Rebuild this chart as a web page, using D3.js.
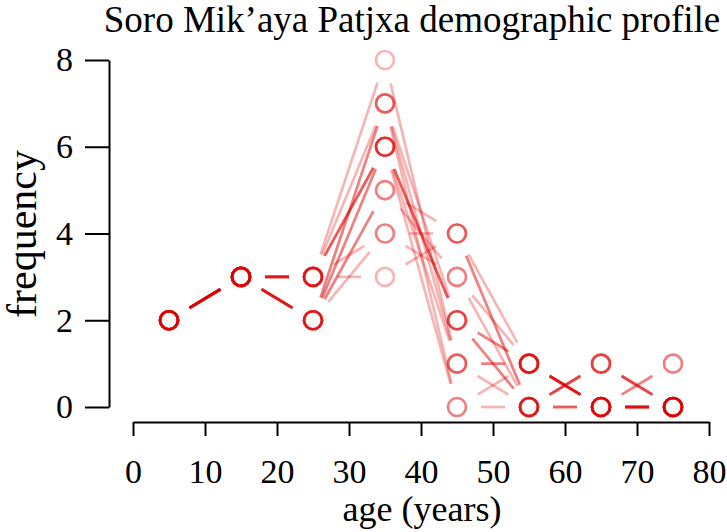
<!DOCTYPE html>
<html>
<head>
<meta charset="utf-8">
<script src="https://cdn.jsdelivr.net/npm/d3@7"></script>
<style>
  html, body { margin: 0; padding: 0; background: #fff; }
  svg { display: block; }
  text { font-family: "Liberation Serif", "Times New Roman", serif; }
</style>
</head>
<body>
<svg id="chart" width="727" height="532"></svg>
<script>
// Age bin midpoints (years)
const ages = [5, 15, 25, 35, 45, 55, 65, 75];
// Candidate demographic profiles (frequency per 10-year bin)
const profile01 = [2, 3, 3, 6, 2, 0, 1, 0];
const profile02 = [2, 3, 2, 6, 2, 1, 0, 0];
const profile03 = [2, 3, 3, 7, 1, 0, 0, 0];
const profile04 = [2, 3, 2, 7, 2, 0, 1, 0];
const profile05 = [2, 3, 3, 8, 1, 1, 0, 1];
const profile06 = [2, 3, 2, 5, 3, 0, 1, 0];
const profile07 = [2, 3, 3, 6, 2, 1, 0, 0];
const profile08 = [2, 3, 2, 5, 4, 0, 0, 0];
const profile09 = [2, 3, 2, 4, 3, 1, 0, 0];
const profile10 = [2, 3, 3, 3, 4, 1, 0, 0];
const profile11 = [2, 3, 3, 4, 4, 0, 1, 0];
const profile12 = [2, 3, 2, 6, 1, 1, 0, 0];
const profile13 = [2, 3, 3, 6, 0, 0, 0, 1];
const profile14 = [2, 3, 2, 7, 0, 1, 0, 0];
const profiles = [profile01, profile02, profile03, profile04, profile05, profile06, profile07,
                  profile08, profile09, profile10, profile11, profile12, profile13, profile14];
const xTicks = [0, 10, 20, 30, 40, 50, 60, 70, 80];
const yTicks = [0, 2, 4, 6, 8];
const titleText = "Soro Mik\u2019aya Patjxa demographic profile";
const xLabel = "age (years)";
const yLabel = "frequency";

const svg = d3.select("#chart");
const x = d3.scaleLinear().domain([0, 80]).range([133, 709]);
const y = d3.scaleLinear().domain([0, 8]).range([407, 60]);

const red = "rgb(225,0,0)";
const alpha = 0.29;
const gap = 24;
const r = 9;

// Series (type = "b": points with gapped line segments)
profiles.forEach(p => {
  const g = svg.append("g")
    .attr("stroke", red)
    .attr("stroke-opacity", alpha)
    .attr("fill", "none")
    .attr("stroke-width", 2.7);
  const pts = ages.map((a, i) => [x(a), y(p[i])]);
  for (let i = 0; i < pts.length - 1; i++) {
    const [x1, y1] = pts[i], [x2, y2] = pts[i + 1];
    const dx = x2 - x1, dy = y2 - y1;
    const len = Math.hypot(dx, dy);
    if (len <= 2 * gap) continue;
    const ux = dx / len, uy = dy / len;
    g.append("line")
      .attr("x1", x1 + ux * gap).attr("y1", y1 + uy * gap)
      .attr("x2", x2 - ux * gap).attr("y2", y2 - uy * gap);
  }
  g.selectAll("circle").data(pts).join("circle")
    .attr("cx", d => d[0]).attr("cy", d => d[1]).attr("r", r);
});

// Axes
const yAxis = svg.append("g")
  .attr("transform", "translate(109,0)")
  .call(d3.axisLeft(y).tickValues(yTicks).tickSize(24).tickSizeOuter(0).tickPadding(12));
const xAxis = svg.append("g")
  .attr("transform", "translate(0,422)")
  .call(d3.axisBottom(x).tickValues(xTicks).tickSize(14).tickSizeOuter(0).tickPadding(23));
[xAxis, yAxis].forEach(ax => {
  ax.selectAll("path, line").attr("stroke", "#000").attr("stroke-width", 2);
  ax.selectAll("text").attr("fill", "#000")
    .style("font-family", "'Liberation Serif', 'Times New Roman', serif")
    .style("font-size", "34px");
});

svg.append("text")
  .attr("x", 412).attr("y", 32)
  .attr("text-anchor", "middle")
  .style("font-size", "37px")
  .text(titleText);

svg.append("text")
  .attr("x", 422).attr("y", 521)
  .attr("text-anchor", "middle")
  .style("font-size", "36px")
  .text(xLabel);

svg.append("text")
  .attr("transform", "translate(36,234) rotate(-90)")
  .attr("text-anchor", "middle")
  .style("font-size", "42px")
  .text(yLabel);
</script>
</body>
</html>
